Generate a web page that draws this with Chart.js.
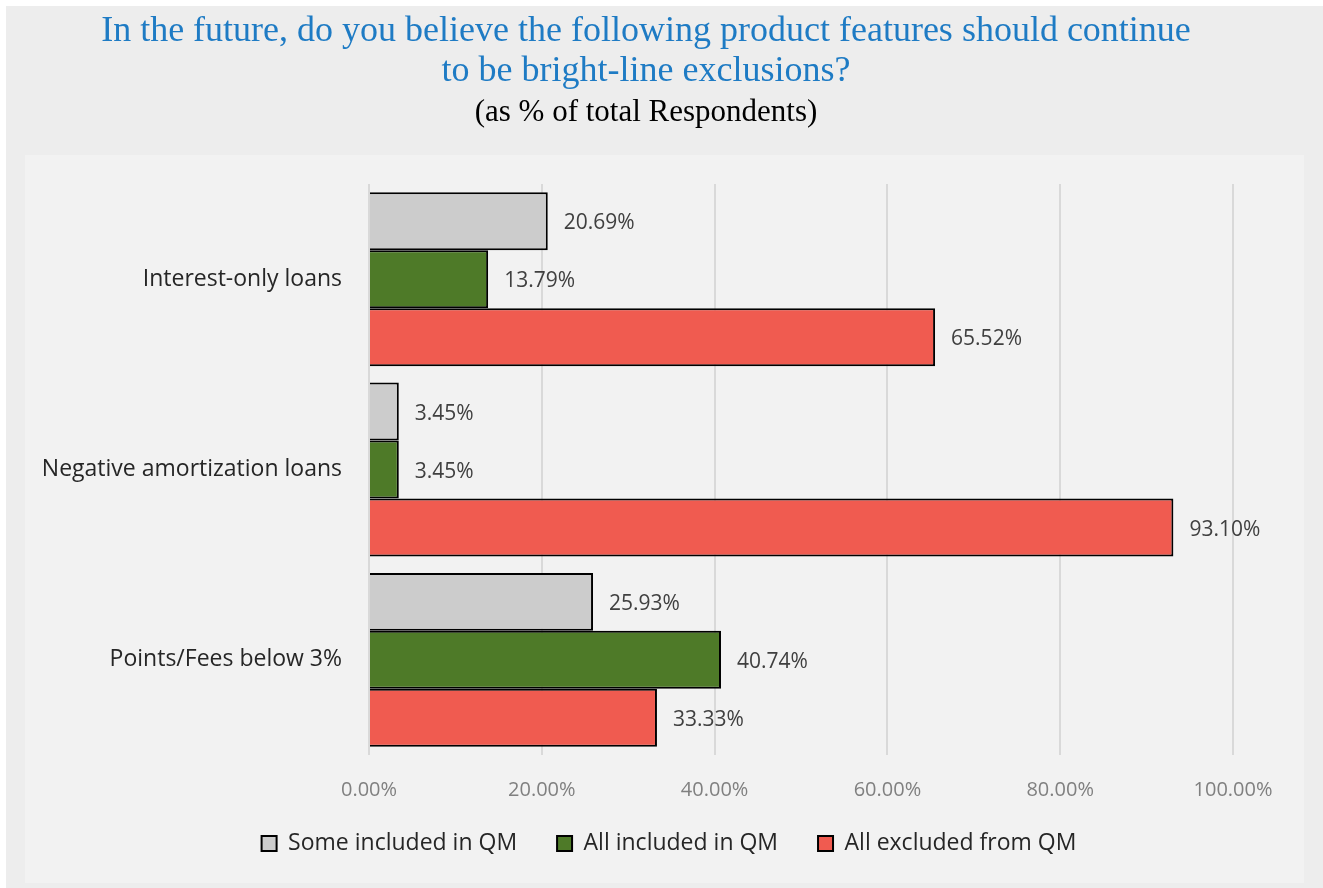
<!DOCTYPE html>
<html>
<head>
<meta charset="utf-8">
<script src="https://cdn.jsdelivr.net/npm/chart.js@4/dist/chart.umd.min.js"></script>
<style>
  html, body { margin: 0; padding: 0; background: #ffffff; }
  #wrap { position: absolute; left: 0; top: 0; width: 1323px; height: 888px; }
</style>
</head>
<body>
<div id="wrap"><canvas id="c" width="1323" height="888"></canvas></div>
<script>
const categories = ['Interest-only loans', 'Negative amortization loans', 'Points/Fees below 3%'];
const seriesNames = ['Some included in QM', 'All included in QM', 'All excluded from QM'];
const someIncluded = [20.69, 3.45, 25.93];
const allIncluded = [13.79, 3.45, 40.74];
const allExcluded = [65.52, 93.10, 33.33];
const xTicks = [0, 20, 40, 60, 80, 100];
const titleLines = ['In the future, do you believe the following product features should continue', 'to be bright-line exclusions?'];
const subtitleText = '(as % of total Respondents)';

const colors = ['#cccccc', '#4e7a28', '#f05b50'];

const bgPlugin = {
  id: 'bg',
  beforeDraw(chart) {
    const ctx = chart.ctx;
    ctx.save();
    ctx.fillStyle = '#ffffff';
    ctx.fillRect(0, 0, 1323, 888);
    ctx.fillStyle = '#ededed';
    ctx.fillRect(6, 6, 1317, 882);
    ctx.fillStyle = '#f2f2f2';
    ctx.fillRect(25, 155, 1279, 728);
    ctx.restore();
  }
};

const labelPlugin = {
  id: 'valueLabels',
  afterDatasetsDraw(chart) {
    const ctx = chart.ctx;
    ctx.save();
    ctx.font = '21px "Open Sans"';
    ctx.fillStyle = '#404040';
    ctx.textAlign = 'left';
    ctx.textBaseline = 'middle';
    chart.data.datasets.forEach((ds, i) => {
      const meta = chart.getDatasetMeta(i);
      meta.data.forEach((el, j) => {
        ctx.fillText(ds.data[j].toFixed(2) + '%', el.x + 16, el.y + 2);
      });
    });
    ctx.restore();
  }
};

const layoutTweak = {
  id: 'layoutTweak',
  afterLayout(chart) {
    if (chart.legend) {
      chart.legend.left += 23;
      chart.legend.right += 23;
    }
    // widen the label clip areas so tick text is not cut
    if (chart.scales.x) chart.scales.x.bottom += 45;
    if (chart.scales.y) chart.scales.y.left = 0;
  }
};

new Chart(document.getElementById('c'), {
  type: 'bar',
  data: {
    labels: categories,
    datasets: [
      { label: seriesNames[0], data: someIncluded, backgroundColor: colors[0], borderColor: '#000000', borderWidth: 2 },
      { label: seriesNames[1], data: allIncluded, backgroundColor: colors[1], borderColor: '#000000', borderWidth: 2 },
      { label: seriesNames[2], data: allExcluded, backgroundColor: colors[2], borderColor: '#000000', borderWidth: 2 }
    ]
  },
  plugins: [bgPlugin, labelPlugin, layoutTweak],
  options: {
    indexAxis: 'y',
    responsive: false,
    animation: false,
    devicePixelRatio: 1,
    categoryPercentage: 0.914,
    barPercentage: 1.0,
    layout: { padding: { left: 59, right: 90, top: 0, bottom: 23 } },
    scales: {
      x: {
        min: 0,
        max: 100,
        afterBuildTicks(scale) { scale.ticks = xTicks.map(v => ({ value: v })); },
        afterFit(scale) { scale.height = 37; },
        grid: { color: '#d9d9d9', lineWidth: 2, drawTicks: false },
        border: { display: false },
        ticks: {
          padding: 23,
          color: '#808080',
          font: { family: '"Open Sans"', size: 20 },
          callback: (v) => Number(v).toFixed(2) + '%'
        }
      },
      y: {
        afterFit(scale) { scale.width = 310; },
        grid: { display: false, drawTicks: false },
        border: { display: false },
        ticks: {
          padding: 27,
          color: '#262626',
          font: { family: '"Open Sans"', size: 23 }
        }
      }
    },
    plugins: {
      title: {
        display: true,
        text: titleLines,
        color: '#1e7bc4',
        font: { family: '"Liberation Serif"', size: 36, weight: 'normal', lineHeight: 1.111 },
        padding: { top: 12, bottom: 0 }
      },
      subtitle: {
        display: true,
        text: subtitleText,
        color: '#000000',
        font: { family: '"Liberation Serif"', size: 31, weight: 'normal', lineHeight: 1.1 },
        padding: { top: 4, bottom: 54 }
      },
      legend: {
        position: 'bottom',
        labels: {
          boxWidth: 15,
          boxHeight: 15,
          padding: 40,
          color: '#262626',
          font: { family: '"Open Sans"', size: 23 },
          useBorderRadius: false
        }
      },
      tooltip: { enabled: false }
    }
  }
});
</script>
</body>
</html>
